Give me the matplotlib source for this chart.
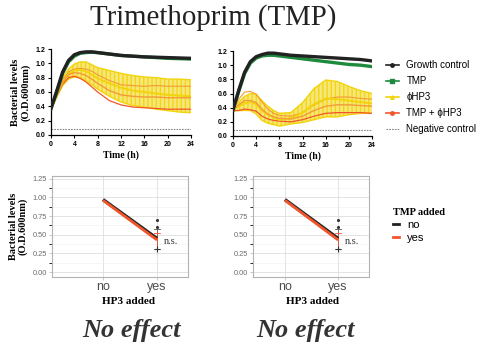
import matplotlib
matplotlib.use("Agg")
import matplotlib.pyplot as plt
from matplotlib.lines import Line2D
import numpy as np

serif = "Liberation Serif"
sans = "Liberation Sans"

# ---- growth curves (O.D. 600nm) ----
hours = [0, 1, 2, 3, 4, 5, 6, 7, 8, 10, 12, 14, 16, 18, 20, 22, 24]

# left panel
left_growth = [0.37, 0.62, 0.88, 1.04, 1.12, 1.15, 1.16, 1.16, 1.15, 1.13, 1.11, 1.10, 1.09, 1.085, 1.08, 1.075, 1.07]
left_tmp = [0.37, 0.60, 0.86, 1.02, 1.10, 1.14, 1.15, 1.155, 1.15, 1.13, 1.11, 1.10, 1.09, 1.08, 1.07, 1.065, 1.06]
left_phi = [0.37, 0.56, 0.74, 0.85, 0.90, 0.91, 0.89, 0.84, 0.79, 0.72, 0.66, 0.62, 0.60, 0.58, 0.56, 0.55, 0.54]
left_phi_sd = [0.02, 0.03, 0.05, 0.07, 0.09, 0.11, 0.13, 0.14, 0.15, 0.18, 0.20, 0.21, 0.21, 0.22, 0.22, 0.23, 0.23]
left_combo = [0.37, 0.56, 0.74, 0.84, 0.87, 0.86, 0.83, 0.78, 0.72, 0.62, 0.56, 0.54, 0.53, 0.53, 0.52, 0.52, 0.52]
left_combo_sd = [0.01, 0.02, 0.03, 0.04, 0.05, 0.07, 0.09, 0.11, 0.12, 0.14, 0.14, 0.15, 0.15, 0.16, 0.16, 0.16, 0.16]

# right panel
right_growth = [0.37, 0.65, 0.90, 1.05, 1.12, 1.15, 1.17, 1.17, 1.16, 1.14, 1.13, 1.12, 1.11, 1.10, 1.09, 1.08, 1.06]
right_tmp = [0.37, 0.63, 0.88, 1.03, 1.10, 1.13, 1.14, 1.14, 1.13, 1.11, 1.09, 1.07, 1.05, 1.03, 1.01, 1.00, 0.98]
right_phi = [0.37, 0.42, 0.46, 0.48, 0.45, 0.36, 0.30, 0.26, 0.23, 0.25, 0.33, 0.45, 0.53, 0.52, 0.50, 0.48, 0.46]
right_phi_sd = [0.02, 0.06, 0.10, 0.12, 0.14, 0.14, 0.12, 0.10, 0.09, 0.08, 0.14, 0.22, 0.26, 0.25, 0.20, 0.16, 0.14]
right_combo = [0.37, 0.44, 0.50, 0.50, 0.47, 0.38, 0.31, 0.27, 0.25, 0.24, 0.28, 0.36, 0.42, 0.44, 0.44, 0.43, 0.42]
right_combo_sd = [0.01, 0.08, 0.12, 0.13, 0.12, 0.10, 0.07, 0.05, 0.04, 0.04, 0.05, 0.08, 0.10, 0.11, 0.11, 0.10, 0.10]

neg_control = 0.09

# ---- interaction plots ----
hp3_added = ["no", "yes"]
tmp_no = [0.97, 0.45]
tmp_yes = [0.96, 0.43]
tmp_no_err = [0.31, 0.57]   # low/high at "yes"
tmp_yes_err = [0.31, 0.52]
outliers_no = [0.70, 0.61]
outliers_yes = [0.31]

c_black = "#222222"
c_green = "#1e8a3c"
c_yellow = "#f2d40c"
c_fill = "#f7e56c"
c_red = "#f2552c"
c_orange = "#f39a3a"

fig = plt.figure(figsize=(4.86, 3.47), dpi=100)
W, H = 486.0, 347.0


def box(l, t, r, b):
    return [l / W, 1 - b / H, (r - l) / W, (b - t) / H]


def growth_panel(ax, growth, tmp, phi, phi_sd, combo, combo_sd):
    t = np.array(hours)
    phi, phi_sd = np.array(phi), np.array(phi_sd)
    combo, combo_sd = np.array(combo), np.array(combo_sd)
    ax.fill_between(t, phi - phi_sd, phi + phi_sd, facecolor=c_fill, edgecolor=c_yellow,
                    hatch="||||", lw=0, alpha=0.9, zorder=1)
    ax.plot(t, phi + phi_sd, color=c_yellow, lw=1.0, zorder=2)
    ax.plot(t, phi - phi_sd, color=c_yellow, lw=1.0, zorder=2)
    ax.plot(t, combo + combo_sd, color=c_orange, lw=0.8, zorder=3)
    ax.plot(t, combo - combo_sd, color=c_red, lw=0.9, zorder=3)
    ax.plot(t, phi, color=c_yellow, lw=1.4, zorder=4)
    ax.plot(t, combo, color=c_orange, lw=1.0, zorder=4)
    ax.plot(t, tmp, color=c_green, lw=2.4, zorder=5)
    ax.plot(t, growth, color=c_black, lw=2.4, zorder=6)
    ax.axhline(neg_control, color="#888888", lw=0.8, ls=(0, (1.5, 1)), zorder=2)
    ax.set_xlim(0, 24)
    ax.set_ylim(0, 1.2)
    ax.set_xticks(range(0, 25, 4))
    ax.set_yticks(np.arange(0, 1.21, 0.2))
    ax.set_yticklabels(["%.1f" % v for v in np.arange(0, 1.21, 0.2)])
    for s in ["top", "right"]:
        ax.spines[s].set_visible(False)
    for s in ["left", "bottom"]:
        ax.spines[s].set_linewidth(0.9)
    ax.tick_params(labelsize=5, length=2.5, width=0.8, pad=1.5)
    for lab in ax.get_xticklabels() + ax.get_yticklabels():
        lab.set_fontfamily(sans)
        lab.set_fontweight("bold")
    ax.set_xlabel("Time (h)", fontfamily=serif, fontweight="bold", fontsize=7, labelpad=2)


def interaction_panel(ax, xlim, label_x):
    x = [1, 2]
    ax.set_xlim(*xlim)
    ax.set_ylim(-0.065, 1.285)
    ax.set_yticks([0, 0.25, 0.5, 0.75, 1.0, 1.25])
    ax.set_yticklabels(["0.00", "0.25", "0.50", "0.75", "1.00", "1.25"])
    ax.set_yticks([0.125, 0.375, 0.625, 0.875, 1.125], minor=True)
    ax.set_xticks(x)
    ax.set_xticklabels(hp3_added)
    ax.grid(True, which="major", color="#dedede", lw=0.6)
    ax.grid(True, which="minor", axis="y", color="#efefef", lw=0.4)
    ax.set_axisbelow(True)
    for s in ax.spines.values():
        s.set_color("#b3b3b3")
        s.set_linewidth(0.8)
    ax.tick_params(axis="y", labelsize=5.3, colors="#b3b3b3", labelcolor="#6a6a6a", length=2, width=0.5, pad=1.5)
    ax.tick_params(axis="x", labelsize=9, colors="#b3b3b3", labelcolor="#4d4d4d", length=2, width=0.5, pad=1)
    for lab in ax.get_xticklabels() + ax.get_yticklabels():
        lab.set_fontfamily(sans)
    ax.plot(x, tmp_no, color=c_black, lw=2.4, solid_capstyle="butt", zorder=3)
    ax.plot(x, tmp_yes, color=c_red, lw=2.0, solid_capstyle="butt", zorder=4)
    ax.plot([x[1], x[1]], tmp_no_err, color="#555555", lw=0.6, zorder=2)
    ax.plot([x[1] - 0.05, x[1] + 0.05], [tmp_no_err[1]] * 2, color="#555555", lw=0.6)
    ax.plot([x[1], x[1]], tmp_yes_err, color=c_red, lw=0.6, zorder=2)
    for v in tmp_yes_err:
        ax.plot([x[1] - 0.06, x[1] + 0.06], [v, v], color=c_red, lw=0.6)
    ax.scatter([x[1]] * len(outliers_no), outliers_no, s=1.5, color="#333333", zorder=5)
    ax.scatter([x[1]] * len(outliers_yes), outliers_yes, s=14, marker="+", color="#333333", lw=0.8, zorder=5)
    ax.set_xlabel("HP3 added", fontfamily=serif, fontweight="bold", fontsize=8, labelpad=3)
    ax.xaxis.set_label_coords(label_x, -0.2)
    ax.text(x[1] + 0.12, 0.41, "n.s.", fontfamily=serif, fontsize=7.5, color="#333333", va="center", ha="left")


ax1 = fig.add_axes(box(51, 49, 191, 135))
growth_panel(ax1, left_growth, left_tmp, left_phi, left_phi_sd, left_combo, left_combo_sd)
ax1.set_ylabel("Bacterial levels\n(O.D.600nm)", fontfamily=serif, fontweight="bold", fontsize=7.5,
               labelpad=4, linespacing=1.0)

ax2 = fig.add_axes(box(233, 51, 372, 136))
growth_panel(ax2, right_growth, right_tmp, right_phi, right_phi_sd, right_combo, right_combo_sd)

ax3 = fig.add_axes(box(52, 176, 188, 277))
interaction_panel(ax3, (0.056, 2.574), (128 - 52) / 136.0)
ax3.set_ylabel("Bacterial levels\n(O.D.600nm)", fontfamily=serif, fontweight="bold", fontsize=7.5,
               labelpad=4, linespacing=1.0)

ax4 = fig.add_axes(box(253, 176, 369, 277))
interaction_panel(ax4, (0.4, 2.58), (312 - 253) / 116.0)

# top legend
handles = [
    Line2D([], [], color=c_black, lw=1.2, marker="o", ms=2.5),
    Line2D([], [], color=c_green, lw=1.2, marker="s", ms=2.5),
    Line2D([], [], color=c_yellow, lw=1.2, marker="^", ms=2.5),
    Line2D([], [], color=c_red, lw=1.2, marker="o", ms=2.5),
    Line2D([], [], color="#888888", lw=0.8, ls=(0, (1.5, 1))),
]
labels = ["Growth control", "TMP", "ϕHP3", "TMP + ϕHP3", "Negative control"]
fig.legend(handles, labels, loc="upper left", bbox_to_anchor=(386 / W, 1 - 60 / H), frameon=False,
           prop={"family": sans, "size": 7}, handlelength=1.3, handletextpad=0.8, labelspacing=0.62,
           borderaxespad=0, borderpad=0)

# bottom legend
h2 = [Line2D([], [], color=c_black, lw=2), Line2D([], [], color=c_red, lw=2)]
leg2 = fig.legend(h2, ["no", "yes"], loc="upper left", bbox_to_anchor=(393 / W, 1 - 208 / H), frameon=False,
                  prop={"family": sans, "size": 8}, handlelength=0.5, handletextpad=0.8, labelspacing=0.25,
                  title="TMP added", borderaxespad=0, borderpad=0)
leg2.get_title().set_fontfamily(serif)
leg2.get_title().set_fontweight("bold")
leg2.get_title().set_fontsize(7.5)
leg2._legend_box.align = "left"

fig.text(213 / W, 1 - 18 / H, "Trimethoprim (TMP)", fontfamily=serif, fontsize=20.8, ha="center", va="center",
         color="#222222")
fig.text(132 / W, 1 - 330 / H, "No effect", fontfamily=serif, fontsize=19, fontweight="bold", style="italic",
         ha="center", va="center", color="#333333")
fig.text(305 / W, 1 - 330 / H, "No effect", fontfamily=serif, fontsize=19, fontweight="bold", style="italic",
         ha="center", va="center", color="#333333")

fig.savefig("out.png", dpi=100)
